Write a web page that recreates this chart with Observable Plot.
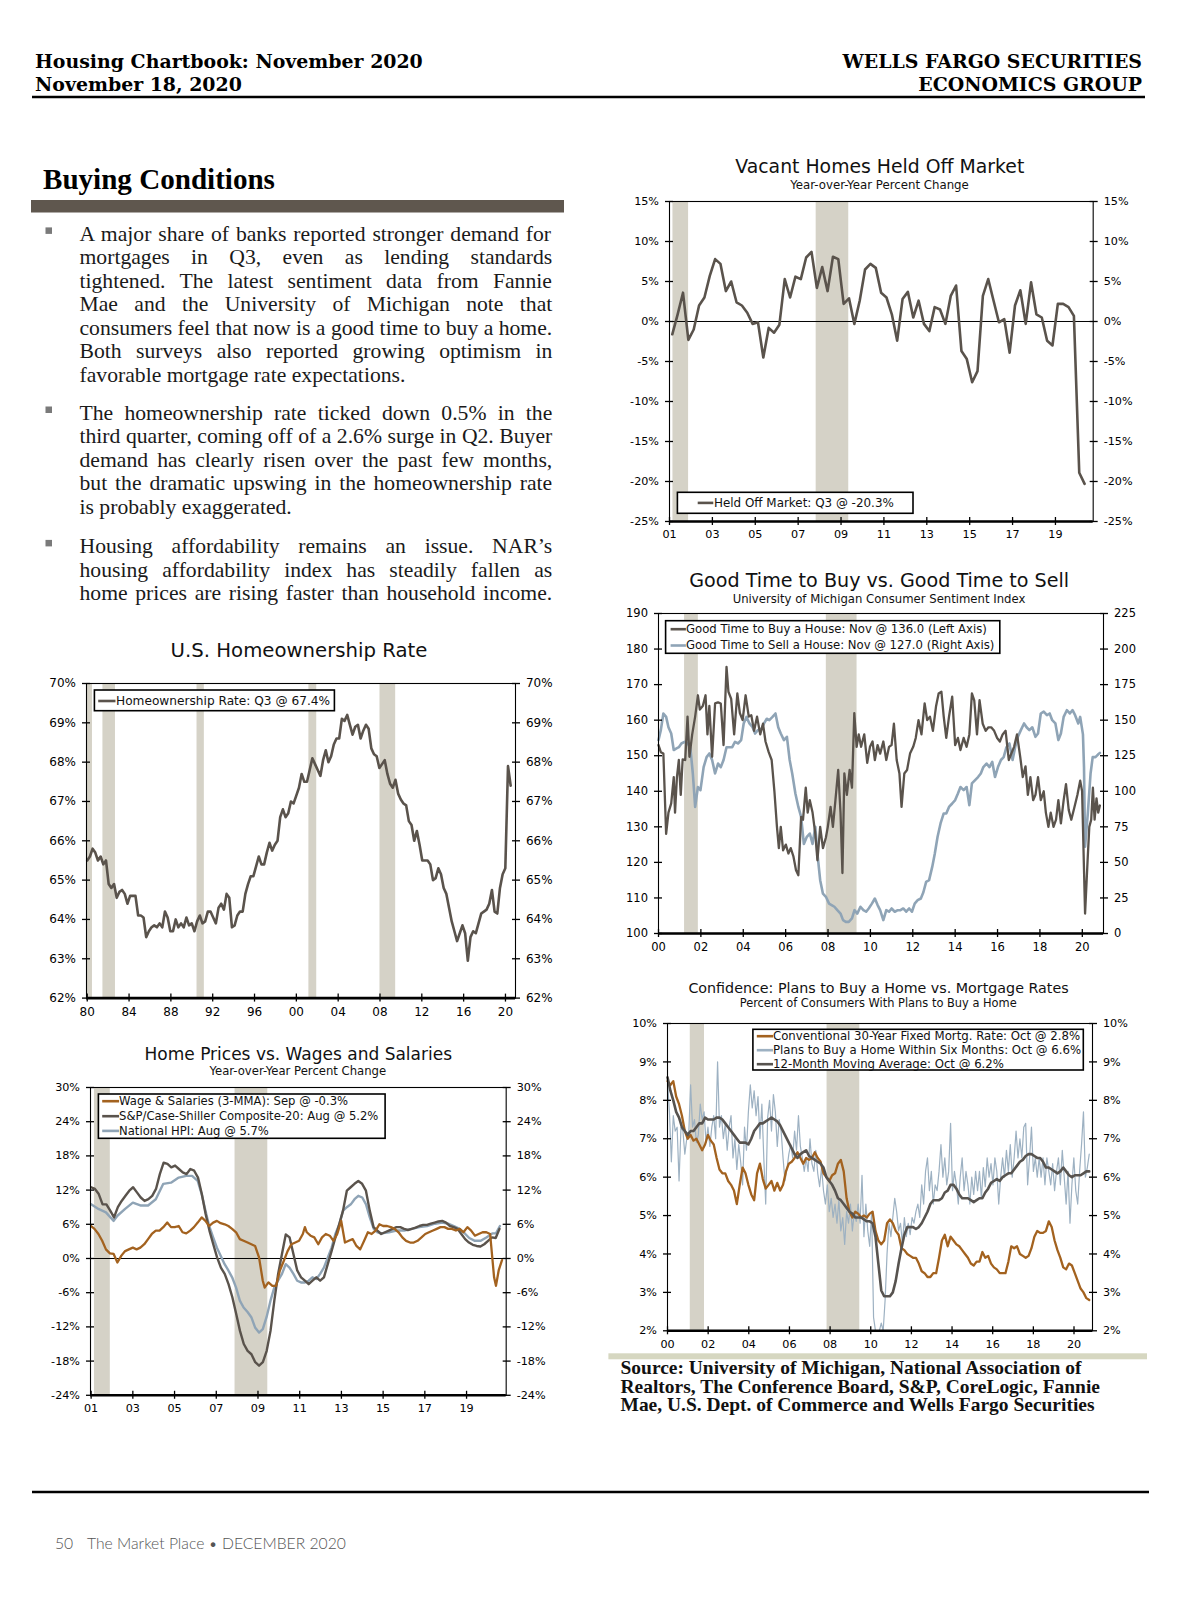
<!DOCTYPE html>
<html><head><meta charset="utf-8">
<script src="https://cdn.jsdelivr.net/npm/d3@7"></script>
<script src="https://cdn.jsdelivr.net/npm/@observablehq/plot@0.6"></script>
<style>
html,body{margin:0;padding:0;background:#fff;}
#page{position:relative;width:1200px;height:1606px;overflow:hidden;background:#fff;}
</style></head>
<body><div id="page"></div>
<script>
// ================= DATA =================
// Vacant homes held off market, YoY % (quarterly, 2001 to 2020 Q3)
const vacantValues = [-1.6,0.9,3.6,-2.3,-1.0,2.0,3.0,5.7,7.8,7.2,3.8,5.0,2.4,2.0,1.1,-0.3,-0.1,-4.5,-0.8,-1.4,-0.4,5.3,3.0,5.6,5.3,8.0,8.7,4.2,6.8,3.8,8.1,7.8,2.2,2.9,-0.3,2.6,6.5,7.2,6.7,3.6,3.0,0.9,-2.4,2.8,3.7,0.5,2.6,-0.3,-1.2,1.8,1.5,-0.3,3.2,4.5,-3.7,-4.7,-7.6,-6.2,3.2,5.3,2.6,-0.1,0.3,-3.9,2.0,3.9,-0.3,4.9,0.9,0.5,-2.4,-3.0,2.2,2.2,1.8,0.7,-18.9,-20.3];
const vacantSpan = [2001.13, 2020.36];

// U.S. homeownership rate, % (quarterly 1980 to 2020 Q3)
const homeownValues = [65.5,65.6,65.8,65.7,65.5,65.6,65.4,65.5,64.9,64.8,64.9,64.55,64.7,64.75,64.65,64.4,64.6,64.6,64.6,64.1,64.1,64.05,63.55,63.7,63.8,63.85,63.8,63.9,63.8,64.2,64.05,63.7,63.7,64.0,63.8,63.9,63.8,64.05,63.85,63.9,63.7,63.95,64.1,63.9,63.95,64.2,64.2,64.05,63.9,64.3,64.4,64.25,64.65,64.55,63.8,63.85,64.1,64.2,64.2,64.65,64.9,65.1,65.1,65.35,65.6,65.4,65.4,65.7,65.95,65.75,65.9,66.0,66.6,66.8,66.6,66.7,67.0,66.95,67.15,67.35,67.7,67.5,67.5,67.8,68.1,67.95,67.8,67.65,68.05,68.3,68.0,68.15,68.45,68.6,68.6,69.1,69.05,69.2,68.95,68.7,68.9,68.95,68.6,68.8,68.95,68.85,68.35,68.2,68.15,67.85,67.95,68.05,67.7,67.45,67.35,67.55,67.2,67.05,66.95,66.9,66.5,66.4,66.0,66.25,65.9,65.5,65.5,65.5,65.4,65.0,65.05,65.3,65.15,64.8,64.65,64.3,63.95,63.7,63.45,63.65,63.85,63.65,62.95,63.55,63.7,63.65,63.9,64.15,64.2,64.25,64.4,64.75,64.2,64.15,64.8,65.15,65.3,67.9,67.4];
const homeownSpan = [1980.0, 2020.5];

// Good time to buy a house (left axis index)
const buySeries = [[2000.00,153],[2000.11,151],[2000.23,150.6],[2000.36,128],[2000.47,134],[2000.60,136.6],[2000.72,144],[2000.78,134],[2000.87,144],[2000.96,148.8],[2001.05,139],[2001.14,149],[2001.26,148.8],[2001.37,161],[2001.46,149.7],[2001.59,156],[2001.73,161],[2001.86,167],[2001.95,163],[2002.09,164],[2002.22,167],[2002.31,156],[2002.40,164],[2002.53,149.7],[2002.67,164.7],[2002.81,165],[2002.94,164.7],[2003.07,153],[2003.21,175],[2003.30,168],[2003.43,166],[2003.57,156],[2003.72,167.5],[2003.84,162],[2003.97,160],[2004.11,167],[2004.26,161],[2004.38,161.4],[2004.51,157],[2004.65,161],[2004.80,156],[2004.93,159],[2005.05,154],[2005.20,151],[2005.34,148.8],[2005.47,140],[2005.59,130],[2005.68,124],[2005.77,130],[2005.88,123.4],[2006.01,125],[2006.13,122.5],[2006.24,124],[2006.37,121.6],[2006.49,117.8],[2006.60,116.4],[2006.73,132.8],[2006.82,132],[2006.95,141],[2007.04,134],[2007.14,137.5],[2007.27,134],[2007.40,128],[2007.50,120.6],[2007.63,130],[2007.76,124],[2007.90,127],[2007.99,130],[2008.12,135.6],[2008.23,130],[2008.35,137.5],[2008.48,146],[2008.59,134],[2008.68,117],[2008.77,145],[2008.89,139],[2009.02,146],[2009.13,141],[2009.24,162],[2009.35,152.5],[2009.45,156],[2009.56,152.5],[2009.71,156],[2009.85,148],[2009.98,152.5],[2010.10,154],[2010.21,148.8],[2010.34,153],[2010.46,150.6],[2010.61,154],[2010.75,148.8],[2010.88,152.5],[2011.00,153],[2011.11,159],[2011.24,148.8],[2011.37,145],[2011.47,135.6],[2011.60,145],[2011.73,146],[2011.87,150.6],[2012.02,152.5],[2012.14,155],[2012.27,160],[2012.41,156],[2012.56,164.7],[2012.68,160],[2012.81,161],[2012.95,157],[2013.10,164],[2013.22,167.5],[2013.35,168],[2013.46,161],[2013.58,155],[2013.71,161],[2013.86,166.6],[2014.00,153],[2014.13,155],[2014.25,151.6],[2014.40,155],[2014.54,152.5],[2014.67,156],[2014.79,167.5],[2014.90,165.6],[2015.03,156],[2015.15,165.6],[2015.30,159],[2015.44,157],[2015.57,158],[2015.70,158],[2015.84,157],[2015.98,155],[2016.11,154],[2016.24,156],[2016.38,157],[2016.53,148.8],[2016.65,150.6],[2016.78,152.5],[2016.92,156],[2017.07,149.7],[2017.19,144],[2017.32,147],[2017.43,139],[2017.55,144],[2017.68,137.5],[2017.79,139],[2017.91,144],[2018.04,137.5],[2018.18,140],[2018.28,134],[2018.40,130],[2018.51,134],[2018.64,130],[2018.76,132],[2018.87,137.5],[2018.99,131],[2019.12,137.5],[2019.23,142],[2019.36,134.7],[2019.48,132],[2019.63,135.6],[2019.77,139],[2019.90,143],[2019.99,140],[2020.13,105.6],[2020.25,120.6],[2020.33,130],[2020.42,132],[2020.50,141],[2020.58,132],[2020.67,138],[2020.75,134],[2020.83,136]];

// Good time to sell a house (right axis index)
const sellSeries = [[2000.00,136],[2000.11,143],[2000.23,154.7],[2000.36,152.3],[2000.47,145],[2000.60,140.6],[2000.72,129],[2000.83,130],[2000.96,131],[2001.08,133.6],[2001.23,134.8],[2001.37,133.6],[2001.50,131],[2001.62,112.5],[2001.73,89],[2001.86,103],[2001.98,100.8],[2002.13,117],[2002.27,124],[2002.40,126.6],[2002.53,122],[2002.67,112.5],[2002.81,119.5],[2002.94,117],[2003.07,122],[2003.21,131],[2003.36,131],[2003.48,131],[2003.61,134.8],[2003.75,133.6],[2003.90,136],[2004.02,147.7],[2004.15,152.3],[2004.29,147.7],[2004.44,145],[2004.56,140.6],[2004.69,143],[2004.83,143],[2004.98,147.7],[2005.11,151],[2005.23,150],[2005.38,152.3],[2005.52,154.7],[2005.65,145],[2005.77,140.6],[2005.92,136],[2006.06,138.3],[2006.19,122],[2006.31,112.5],[2006.46,98.4],[2006.60,89],[2006.73,82],[2006.86,63],[2007.00,68],[2007.14,70.3],[2007.27,63],[2007.40,75],[2007.50,56],[2007.63,37.5],[2007.76,28],[2007.90,25.8],[2008.05,21],[2008.17,20],[2008.30,18.8],[2008.44,16.4],[2008.59,14],[2008.71,9.4],[2008.84,8.2],[2008.98,8.2],[2009.13,10.6],[2009.25,16.4],[2009.38,14],[2009.53,18.8],[2009.67,16.4],[2009.80,15.3],[2009.92,17.6],[2010.07,21],[2010.21,24.6],[2010.34,20],[2010.46,16.4],[2010.61,9.4],[2010.75,16.4],[2010.88,15.3],[2011.00,17.6],[2011.15,15.3],[2011.29,16.4],[2011.42,16.4],[2011.55,17.6],[2011.69,15.3],[2011.83,17.6],[2011.96,15.3],[2012.09,21],[2012.23,23.4],[2012.38,24.6],[2012.50,29],[2012.63,36.3],[2012.77,37.5],[2012.92,47],[2013.04,56.3],[2013.17,68],[2013.31,77.4],[2013.46,84.4],[2013.58,84.4],[2013.71,89],[2013.86,91.4],[2014.00,93.8],[2014.13,98.4],[2014.25,103],[2014.40,100.8],[2014.54,103],[2014.67,90.2],[2014.79,105.5],[2014.94,107.8],[2015.08,110],[2015.21,112.5],[2015.33,117],[2015.48,119.5],[2015.62,117],[2015.75,120.7],[2015.88,110],[2016.02,117],[2016.16,122],[2016.29,124],[2016.42,131],[2016.56,133.6],[2016.71,122],[2016.83,131],[2016.96,138.3],[2017.10,143],[2017.25,147.7],[2017.37,145],[2017.50,143],[2017.64,145],[2017.79,138.3],[2017.91,140.6],[2018.04,154.7],[2018.18,156],[2018.33,153.5],[2018.46,154.7],[2018.58,150],[2018.73,147.7],[2018.87,136],[2018.99,140.6],[2019.12,152.3],[2019.27,157],[2019.41,154.7],[2019.54,157],[2019.66,153.5],[2019.81,147.7],[2019.90,152.3],[2020.03,140],[2020.08,117],[2020.13,61],[2020.26,84.4],[2020.39,112.5],[2020.49,124],[2020.62,124],[2020.75,126],[2020.83,127]];

// Confidence chart (monthly-ish readings, 2000 to Oct 2020)
const plansValues = [8.5,7.7,6.4,7.6,7.2,7.3,5.9,7.3,7.2,6.6,7.0,7.1,8.4,7.3,7.5,6.9,7.1,7.9,7.5,7.7,6.9,7.3,6.8,7.3,7.6,7.0,9.0,7.3,7.6,7.0,7.4,6.7,7.3,7.6,6.5,7.0,6.2,6.85,6.4,5.8,7.3,6.7,7.7,8.4,7.8,8.25,7.6,8.1,7.0,7.9,6.5,5.3,7.55,8.0,7.2,8.15,7.7,6.8,7.5,7.2,6.5,5.9,6.2,6.6,6.85,6.5,7.2,6.7,7.6,6.8,6.5,6.15,6.5,6.15,7.0,6.35,6.15,6.7,6.1,5.75,6.25,5.65,5.3,5.8,5.1,5.45,4.95,5.3,4.8,5.4,4.6,4.95,4.25,5.1,4.8,5.3,4.6,5.1,4.85,5.3,4.8,6.05,4.45,5.3,4.6,4.2,5.1,2.35,2.0,2.0,2.0,2.2,2.0,2.8,4.0,4.8,4.45,4.95,5.45,5.1,4.6,4.8,4.25,4.95,4.45,4.8,4.5,4.95,4.8,5.1,5.3,4.95,5.8,5.3,6.15,6.5,5.65,6.15,5.3,5.8,5.65,6.15,6.85,6.0,6.5,5.8,6.15,7.4,5.65,6.15,5.8,5.3,6.0,6.5,5.65,6.15,5.8,5.3,6.0,5.55,6.15,5.65,6.15,5.45,6.25,5.75,6.5,6.0,6.35,5.8,6.5,6.15,5.3,6.0,6.5,6.0,6.7,6.15,6.85,6.0,6.5,7.2,6.5,7.0,6.5,7.3,7.4,5.8,6.5,7.3,6.15,6.5,6.0,6.5,6.0,6.5,5.8,6.5,6.15,5.8,6.35,5.65,6.15,6.5,5.8,6.7,6.0,5.3,6.15,4.8,5.8,6.5,5.65,5.3,6.15,6.85,7.7,6.0,6.25,6.6];
const mortgageValues = [8.5,8.4,8.5,8.1,7.9,7.6,7.2,7.0,7.1,6.95,7.0,6.85,6.7,6.85,7.1,6.95,6.85,6.5,6.2,6.1,6.1,5.9,5.8,5.65,5.3,5.8,6.25,6.1,5.8,5.55,5.4,6.1,6.35,5.95,5.7,5.8,5.9,5.65,5.85,5.65,5.8,6.15,6.35,6.4,6.5,6.65,6.5,6.35,6.5,6.45,6.5,6.65,6.5,6.4,6.1,6.0,5.9,6.05,6.1,6.35,6.45,6.15,5.45,5.1,4.95,5.1,5.05,4.95,5.0,4.95,5.05,5.1,4.6,4.35,4.25,4.35,4.8,4.9,4.8,4.6,4.5,4.15,4.1,4.0,3.95,3.9,3.9,3.75,3.55,3.5,3.4,3.4,3.5,3.5,3.9,4.35,4.5,4.2,4.45,4.35,4.25,4.2,4.1,4.0,3.9,3.75,3.7,3.8,3.8,4.05,3.9,3.95,3.75,3.65,3.6,3.5,3.5,3.5,3.8,4.2,4.15,4.2,4.0,3.95,3.9,3.95,4.15,4.45,4.6,4.55,4.55,4.6,4.85,4.7,4.35,4.1,3.9,3.65,3.6,3.75,3.7,3.5,3.3,3.1,3.0,2.85,2.8];
const movingAvgValues = [8.6,8.25,8.0,7.7,7.55,7.3,7.2,7.1,7.2,7.2,7.3,7.4,7.4,7.55,7.5,7.5,7.5,7.55,7.55,7.5,7.4,7.3,7.2,7.1,7.0,6.9,6.9,6.9,6.85,7.0,7.2,7.3,7.4,7.4,7.45,7.5,7.55,7.5,7.45,7.35,7.2,7.05,6.9,6.75,6.6,6.5,6.6,6.65,6.7,6.55,6.5,6.45,6.4,6.35,6.25,6.0,5.9,5.8,5.65,5.45,5.4,5.3,5.2,5.1,5.05,4.95,4.95,4.95,4.9,4.85,4.85,4.8,4.45,3.75,3.05,2.9,2.9,2.9,3.0,3.3,3.75,4.15,4.5,4.7,4.7,4.7,4.65,4.7,4.8,4.95,5.1,5.3,5.4,5.4,5.4,5.45,5.6,5.65,5.8,5.8,5.7,5.55,5.45,5.45,5.45,5.4,5.35,5.4,5.45,5.45,5.6,5.7,5.85,5.9,5.95,5.9,6.0,6.05,6.1,6.1,6.2,6.3,6.4,6.45,6.55,6.6,6.6,6.55,6.5,6.5,6.4,6.25,6.25,6.2,6.15,6.1,6.15,6.25,6.15,6.05,6.0,6.05,6.05,6.05,6.1,6.15,6.15];
const confSpan = [2000.0, 2020.75];

// Home prices vs wages (YoY %)
const caseShillerValues = [12.5,12.2,11.3,9.5,9.5,8.4,7.2,9.0,10.1,11.0,11.9,12.5,11.6,10.7,10.1,10.4,11.0,12.2,14.8,16.8,16.6,16.0,16.3,15.7,15.1,14.8,15.7,15.4,14.2,11.3,7.8,4.9,2.5,0.2,-1.6,-2.7,-4.5,-6.8,-9.7,-12.7,-15.0,-16.2,-16.8,-18.2,-18.8,-18.2,-16.2,-12.7,-7.4,-2.7,0.8,4.2,3.7,0.8,-2.1,-3.3,-3.9,-4.5,-3.9,-3.3,-3.9,-3.3,-1.0,1.3,3.7,6.0,8.4,11.9,12.5,13.1,13.6,13.1,11.9,8.4,5.5,4.9,4.3,4.6,4.9,5.2,5.5,5.5,5.2,5.0,5.2,5.4,5.7,5.9,5.9,6.1,6.3,6.5,6.6,6.3,5.7,5.5,5.2,4.3,3.4,2.8,2.4,2.2,2.1,2.5,3.1,3.7,3.6,5.2];
const caseShillerSpan = [2001.0, 2020.58];
const hpiSeries = [[2001.00,9.5],[2001.35,8.7],[2001.71,8.1],[2002.08,6.6],[2002.26,7.5],[2002.63,8.7],[2003.00,9.8],[2003.36,9.3],[2003.73,9.3],[2004.10,10.4],[2004.46,13.1],[2004.83,13.3],[2005.20,14.2],[2005.56,14.5],[2005.84,14.5],[2006.11,13.6],[2006.30,11.3],[2006.48,8.4],[2006.66,5.7],[2006.85,3.7],[2007.03,1.9],[2007.21,0.5],[2007.40,-1.0],[2007.58,-2.1],[2007.76,-3.3],[2007.95,-5.1],[2008.13,-7.4],[2008.31,-8.6],[2008.50,-9.4],[2008.68,-10.3],[2008.86,-12.1],[2009.05,-13.0],[2009.23,-12.4],[2009.41,-10.3],[2009.60,-7.4],[2009.78,-5.1],[2009.96,-3.9],[2010.15,-2.7],[2010.33,-1.0],[2010.51,-1.6],[2010.70,-2.7],[2010.88,-3.9],[2011.06,-4.2],[2011.25,-4.2],[2011.43,-3.9],[2011.61,-3.3],[2011.80,-3.6],[2011.98,-2.7],[2012.16,-1.6],[2012.35,0.2],[2012.53,1.9],[2012.71,4.3],[2012.90,6.0],[2013.08,8.4],[2013.26,9.0],[2013.45,9.5],[2013.63,10.4],[2013.81,11.0],[2014.00,10.7],[2014.18,9.5],[2014.36,7.2],[2014.55,5.2],[2014.73,4.6],[2014.91,4.4],[2015.28,4.6],[2015.64,4.9],[2016.01,4.9],[2016.38,5.2],[2016.74,5.5],[2017.11,5.7],[2017.48,6.1],[2017.84,6.3],[2018.12,6.1],[2018.39,5.7],[2018.67,5.2],[2018.94,4.3],[2019.13,3.6],[2019.40,3.1],[2019.68,3.1],[2019.95,3.7],[2020.23,4.4],[2020.41,4.4],[2020.60,5.7]];
const wageSeries = [[2001.00,5.7],[2001.16,5.2],[2001.35,4.3],[2001.53,3.1],[2001.71,1.6],[2001.90,0.9],[2002.08,0.8],[2002.26,-0.7],[2002.45,0.5],[2002.63,1.3],[2002.81,1.6],[2003.00,1.9],[2003.18,1.6],[2003.36,1.9],[2003.55,2.5],[2003.73,3.4],[2003.91,4.3],[2004.10,4.9],[2004.28,4.9],[2004.46,5.5],[2004.65,6.3],[2004.83,5.5],[2005.01,5.5],[2005.20,5.7],[2005.38,4.6],[2005.56,4.4],[2005.75,4.9],[2005.93,5.5],[2006.11,6.3],[2006.30,7.2],[2006.48,6.6],[2006.66,5.7],[2006.85,6.3],[2007.03,6.6],[2007.21,6.2],[2007.40,6.0],[2007.58,5.7],[2007.76,5.2],[2007.95,4.6],[2008.13,3.4],[2008.31,3.1],[2008.50,2.8],[2008.68,2.5],[2008.86,2.2],[2009.05,0.2],[2009.23,-3.9],[2009.32,-5.1],[2009.50,-4.2],[2009.69,-4.8],[2009.87,-4.8],[2010.05,-2.1],[2010.24,-0.4],[2010.42,1.3],[2010.60,2.5],[2010.79,2.8],[2010.97,3.1],[2011.15,4.3],[2011.25,5.5],[2011.34,4.6],[2011.52,4.0],[2011.70,3.7],[2011.89,2.5],[2012.07,3.7],[2012.25,4.3],[2012.44,4.0],[2012.62,3.1],[2012.80,4.3],[2012.99,6.6],[2013.17,2.8],[2013.35,3.1],[2013.54,3.4],[2013.72,2.2],[2013.90,1.6],[2014.09,3.1],[2014.27,4.6],[2014.45,4.3],[2014.64,4.9],[2014.82,6.0],[2015.00,5.7],[2015.19,5.7],[2015.37,5.5],[2015.55,5.2],[2015.74,4.6],[2015.92,3.7],[2016.10,3.1],[2016.29,2.8],[2016.47,2.8],[2016.65,3.1],[2016.84,3.7],[2017.02,4.3],[2017.20,4.6],[2017.39,4.9],[2017.57,5.2],[2017.75,5.5],[2017.94,5.5],[2018.12,5.2],[2018.30,5.2],[2018.49,4.9],[2018.67,5.2],[2018.85,4.6],[2019.04,5.5],[2019.22,4.9],[2019.40,4.0],[2019.58,4.3],[2019.77,4.6],[2019.95,4.6],[2020.13,4.3],[2020.32,-3.3],[2020.41,-4.8],[2020.54,-2.1],[2020.70,-0.3]];

// Recession shading periods (decimal years)
const recessionsVacant = [[2001.16,2001.89],[2007.84,2009.36]];
const recessionsBuySell = [[2001.23,2001.88],[2007.92,2009.37]];
const recessionsConf = [[2001.12,2001.82],[2007.85,2009.46]];
const recessionsPrices = [[2001.16,2001.92],[2007.90,2009.47]];
const recessionsHomeown = [[1980.0,1980.5],[1981.5,1982.7],[1990.5,1991.2],[2001.2,2001.95],[2008.0,2009.5]];

// Axis ticks
const ticksVacantX = [2001,2003,2005,2007,2009,2011,2013,2015,2017,2019];
const ticksVacantY = [-25,-20,-15,-10,-5,0,5,10,15];
const ticksBuySellX = [2000,2002,2004,2006,2008,2010,2012,2014,2016,2018,2020];
const ticksBuyY = [100,110,120,130,140,150,160,170,180,190];
const ticksSellY = [0,25,50,75,100,125,150,175,200,225];
const ticksConfX = [2000,2002,2004,2006,2008,2010,2012,2014,2016,2018,2020];
const ticksConfY = [2,3,4,5,6,7,8,9,10];
const ticksPricesX = [2001,2003,2005,2007,2009,2011,2013,2015,2017,2019];
const ticksPricesY = [-24,-18,-12,-6,0,6,12,18,24,30];
const ticksHomeownX = [1980,1984,1988,1992,1996,2000,2004,2008,2012,2016,2020];
const ticksHomeownY = [62,63,64,65,66,67,68,69,70];

// Texts
const headerLeft = ["Housing Chartbook: November 2020", "November 18, 2020"];
const headerRight = ["WELLS FARGO SECURITIES", "ECONOMICS GROUP"];
const sectionTitle = "Buying Conditions";
const bullet1 = ["A major share of banks reported stronger demand for","mortgages in Q3, even as lending standards","tightened. The latest sentiment data from Fannie","Mae and the University of Michigan note that","consumers feel that now is a good time to buy a home.","Both surveys also reported growing optimism in","favorable mortgage rate expectations."];
const bullet2 = ["The homeownership rate ticked down 0.5% in the","third quarter, coming off of a 2.6% surge in Q2. Buyer","demand has clearly risen over the past few months,","but the dramatic upswing in the homeownership rate","is probably exaggerated."];
const bullet3 = ["Housing affordability remains an issue. NAR\u2019s","housing affordability index has steadily fallen as","home prices are rising faster than household income."];
const sourceLines = ["Source: University of Michigan, National Association of","Realtors, The Conference Board, S&P, CoreLogic, Fannie","Mae, U.S. Dept. of Commerce and Wells Fargo Securities"];
const footerNum = "50", footerText = "The Market Place \u2022 DECEMBER 2020";

// ================= RENDER =================
const page = document.getElementById("page");
const DARK = "#5a534c", BLUE = "#8fa4b6", BROWN = "#a3621f", PLANS = "#9db1c2", MAC = "#57534f", REC = "#d5d2c7";
const pctFmt = d => d + "%";
const yrFmt = d => String(d % 100).padStart(2, "0");
const spread = (vals, [a, b]) => vals.map((v, i) => ({x: a + i * (b - a) / (vals.length - 1), y: v}));
const pairs = arr => arr.map(([x, y]) => ({x, y}));

function recMarks(rec, yDom) {
  return Plot.rect(rec, {x1: d => d[0], x2: d => d[1], y1: () => yDom[0], y2: () => yDom[1], fill: REC});
}

function chart(cfg) {
  const {frame, xDomain, yDomain, xTicks, yTicks, yFmt, rTicks, rFmt, fontSize, marks} = cfg;
  const pL = 72, pR = 72, pT = 10, pB = 34;
  const width = frame.r - frame.l + pL + pR;
  const height = frame.b - frame.t + pT + pB;
  const svg = Plot.plot({
    width, height, marginLeft: pL, marginRight: pR, marginTop: pT, marginBottom: pB,
    style: {fontFamily: "DejaVu Sans", fontSize: fontSize + "px", background: "transparent", color: "#000", overflow: "visible"},
    x: {domain: xDomain, label: null},
    y: {domain: yDomain, label: null},
    marks: [
      ...marks,
      Plot.frame({stroke: "#000", strokeWidth: 1.1}),
      Plot.ruleY([yDomain[0]], {stroke: "#000", strokeWidth: 2.6}),
      Plot.axisY({anchor: "left", ticks: yTicks, tickSize: 8, dx: 4, fill: "none", strokeWidth: 1.3, label: null}),
      Plot.axisY({anchor: "left", ticks: yTicks, tickFormat: yFmt, tickSize: 0, tickPadding: 10.5, label: null}),
      Plot.axisY({anchor: "right", ticks: rTicks, tickSize: 8, dx: -4, fill: "none", strokeWidth: 1.3, label: null}),
      Plot.axisY({anchor: "right", ticks: rTicks, tickFormat: rFmt, tickSize: 0, tickPadding: 10.5, label: null}),
      Plot.axisX({anchor: "bottom", ticks: xTicks, tickSize: 8, dy: -4, fill: "none", strokeWidth: 1.3, label: null}),
      Plot.axisX({anchor: "bottom", ticks: xTicks, tickFormat: yrFmt, tickSize: 0, tickPadding: 9, label: null})
    ]
  });
  svg.style.position = "absolute";
  svg.style.left = (frame.l - pL) + "px";
  svg.style.top = (frame.t - pT) + "px";
  page.appendChild(svg);
}

// Chart A: Vacant homes held off market
chart({
  frame: {l: 669.3, r: 1093, t: 200.7, b: 520.7},
  xDomain: [2001, 2020.76], yDomain: [-25, 15],
  xTicks: ticksVacantX, yTicks: ticksVacantY, yFmt: pctFmt, rTicks: ticksVacantY, rFmt: pctFmt, fontSize: 11.2,
  marks: [
    recMarks(recessionsVacant, [-25, 15]),
    Plot.ruleY([0], {stroke: "#000", strokeWidth: 1}),
    Plot.line(spread(vacantValues, vacantSpan), {x: "x", y: "y", stroke: DARK, strokeWidth: 2.6})
  ]
});

// Chart B: Good time to buy vs sell
const sellToLeft = v => 100 + v * 90 / 225;
chart({
  frame: {l: 658, r: 1103, t: 613.3, b: 933.3},
  xDomain: [2000, 2021], yDomain: [100, 190],
  xTicks: ticksBuySellX, yTicks: ticksBuyY, yFmt: d => String(d),
  rTicks: ticksSellY.map(sellToLeft), rFmt: d => String(Math.round((d - 100) * 225 / 90)), fontSize: 11.5,
  marks: [
    recMarks(recessionsBuySell, [100, 190]),
    Plot.line(sellSeries.map(([x, v]) => ({x, y: sellToLeft(v)})), {x: "x", y: "y", stroke: BLUE, strokeWidth: 2.6}),
    Plot.line(pairs(buySeries), {x: "x", y: "y", stroke: DARK, strokeWidth: 2.3})
  ]
});

// Chart C: Confidence
chart({
  frame: {l: 667, r: 1092, t: 1022.7, b: 1330},
  xDomain: [2000, 2020.91], yDomain: [2, 10],
  xTicks: ticksConfX, yTicks: ticksConfY, yFmt: pctFmt, rTicks: ticksConfY, rFmt: pctFmt, fontSize: 11.2,
  marks: [
    recMarks(recessionsConf, [2, 10]),
    Plot.line(spread(plansValues, confSpan), {x: "x", y: "y", stroke: PLANS, strokeWidth: 1.2}),
    Plot.line(spread(mortgageValues, confSpan), {x: "x", y: "y", stroke: BROWN, strokeWidth: 2.3}),
    Plot.line(spread(movingAvgValues, confSpan), {x: "x", y: "y", stroke: MAC, strokeWidth: 2.6})
  ]
});

// Chart D: Home prices vs wages
chart({
  frame: {l: 90, r: 505.7, t: 1086.7, b: 1394.5},
  xDomain: [2000.97, 2020.9], yDomain: [-24, 30],
  xTicks: ticksPricesX, yTicks: ticksPricesY, yFmt: pctFmt, rTicks: ticksPricesY, rFmt: pctFmt, fontSize: 11.2,
  marks: [
    recMarks(recessionsPrices, [-24, 30]),
    Plot.ruleY([0], {stroke: "#000", strokeWidth: 1}),
    Plot.line(pairs(hpiSeries), {x: "x", y: "y", stroke: BLUE, strokeWidth: 2.4}),
    Plot.line(spread(caseShillerValues, caseShillerSpan), {x: "x", y: "y", stroke: DARK, strokeWidth: 2.4}),
    Plot.line(pairs(wageSeries), {x: "x", y: "y", stroke: BROWN, strokeWidth: 2.3})
  ]
});

// Chart E: Homeownership
chart({
  frame: {l: 86, r: 515, t: 682.7, b: 997.3},
  xDomain: [1979.93, 2020.96], yDomain: [62, 70],
  xTicks: ticksHomeownX, yTicks: ticksHomeownY, yFmt: pctFmt, rTicks: ticksHomeownY, rFmt: pctFmt, fontSize: 12,
  marks: [
    recMarks(recessionsHomeown, [62, 70]),
    Plot.line(spread(homeownValues, homeownSpan), {x: "x", y: "y", stroke: DARK, strokeWidth: 2.6})
  ]
});

// ================= OVERLAY (page text, legends) =================
const NS = "http://www.w3.org/2000/svg";
const ov = document.createElementNS(NS, "svg");
ov.setAttribute("width", 1200); ov.setAttribute("height", 1606);
ov.style.position = "absolute"; ov.style.left = "0px"; ov.style.top = "0px";
page.appendChild(ov);
const cv = document.createElement("canvas").getContext("2d");
function w1(str, family, weight) { cv.font = `${weight} 100px "${family}"`; return cv.measureText(str).width / 100; }
function fit(str, family, weight, target) { return target / w1(str, family, weight); }
function el(tag, attrs) { const e = document.createElementNS(NS, tag); for (const k in attrs) e.setAttribute(k, attrs[k]); ov.appendChild(e); return e; }
function txt(str, x, y, o) {
  const t = el("text", {x, y, "font-family": o.family, "font-size": o.size, "font-weight": o.weight || 400, "text-anchor": o.anchor || "start", fill: o.fill || "#000"});
  if (o.ws) t.style.wordSpacing = o.ws + "px";
  t.textContent = str;
  return t;
}
function fitted(str, x, y, target, family, weight, o = {}) {
  const size = fit(str, family, weight, target);
  return txt(str, x, y, {family, weight, size, ...o});
}

// Header
const SERIF = "Liberation Serif";
const HSERIF = "DejaVu Serif";
const hSize = Math.min(fit(headerLeft[0], HSERIF, 700, 388), 19.5);
txt(headerLeft[0], 35, 67.5, {family: HSERIF, weight: 700, size: hSize});
txt(headerLeft[1], 35, 90.5, {family: HSERIF, weight: 700, size: hSize});
txt(headerRight[0], 1142, 67.5, {family: HSERIF, weight: 700, size: hSize, anchor: "end"});
txt(headerRight[1], 1142, 90.5, {family: HSERIF, weight: 700, size: hSize, anchor: "end"});
el("line", {x1: 32, x2: 1145, y1: 97, y2: 97, stroke: "#000", "stroke-width": 2.3});

// Section
fitted(sectionTitle, 43, 189, 232, SERIF, 700);
el("rect", {x: 31, y: 200, width: 533, height: 12.5, fill: "#5f574e"});

// Bullets (justified lines)
const bodyW = 473, bodyX = 79.5;
const allBody = [...bullet1, ...bullet2, ...bullet3];
const bodySize = Math.min(...allBody.map(s => bodyW / w1(s, SERIF, 400)));
function para(lines, y0, lastJustify) {
  lines.forEach((s, i) => {
    const y = y0 + i * 23.5;
    const isLast = i === lines.length - 1;
    let ws = 0;
    if (!isLast || lastJustify) {
      const n = (s.match(/ /g) || []).length;
      ws = (bodyW - w1(s, SERIF, 400) * bodySize) / n;
    }
    txt(s, bodyX, y, {family: SERIF, size: bodySize, fill: "#1a1a1a", ws});
  });
  el("rect", {x: 45.5, y: y0 - 13.3, width: 6.5, height: 6.5, fill: "#7a7a7a"});
}
para(bullet1, 240.7, false);
para(bullet2, 419.8, false);
para(bullet3, 553.2, true);

// Chart titles
const SANS = "DejaVu Sans";
fitted("Vacant Homes Held Off Market", 879.8, 173.3, 289, SANS, 400, {anchor: "middle", fill: "#111"});
fitted("Year-over-Year Percent Change", 879.5, 189.3, 179, SANS, 400, {anchor: "middle", fill: "#111"});
fitted("Good Time to Buy vs. Good Time to Sell", 879.2, 587.3, 380, SANS, 400, {anchor: "middle", fill: "#111"});
fitted("University of Michigan Consumer Sentiment Index", 879, 603.3, 293, SANS, 400, {anchor: "middle", fill: "#111"});
fitted("Confidence: Plans to Buy a Home vs. Mortgage Rates", 878.5, 993.3, 380.7, SANS, 400, {anchor: "middle", fill: "#111"});
fitted("Percent of Consumers With Plans to Buy a Home", 878.2, 1007.3, 277.5, SANS, 400, {anchor: "middle", fill: "#111"});
fitted("Home Prices vs. Wages and Salaries", 298.3, 1060, 307.8, SANS, 400, {anchor: "middle", fill: "#111"});
fitted("Year-over-Year Percent Change", 297.8, 1075, 177, SANS, 400, {anchor: "middle", fill: "#111"});
fitted("U.S. Homeownership Rate", 299, 656.7, 257, SANS, 400, {anchor: "middle", fill: "#111"});

// Legends
function legend(box, sx, tx, rows, fitIdx, fitW) {
  el("rect", {x: box[0], y: box[1], width: box[2], height: box[3], fill: "#fff", stroke: "#000", "stroke-width": 1.6});
  const size = fit(rows[fitIdx].label, SANS, 400, fitW);
  rows.forEach(r => {
    el("line", {x1: sx[0], x2: sx[1], y1: r.y - 3.8, y2: r.y - 3.8, stroke: r.color, "stroke-width": 2.6});
    txt(r.label, tx, r.y, {family: SANS, size, fill: "#111"});
  });
}
legend([677.4, 492.3, 235.6, 21], [697.7, 713.3], 714, [{label: "Held Off Market: Q3 @ -20.3%", color: DARK, y: 506.7}], 0, 180);
legend([94.4, 690, 240, 20.7], [98.2, 115.5], 116, [{label: "Homeownership Rate: Q3 @ 67.4%", color: DARK, y: 704.8}], 0, 214.5);
legend([665.6, 620.7, 334.2, 32.6], [670.6, 685.9], 686, [
  {label: "Good Time to Buy a House: Nov @ 136.0 (Left Axis)", color: DARK, y: 633},
  {label: "Good Time to Sell a House: Nov @ 127.0 (Right Axis)", color: BLUE, y: 649.3}], 1, 308.7);
legend([752.9, 1029.3, 330.4, 40.7], [756.8, 773], 773, [
  {label: "Conventional 30-Year Fixed Mortg. Rate: Oct @ 2.8%", color: BROWN, y: 1040},
  {label: "Plans to Buy a Home Within Six Months: Oct @ 6.6%", color: PLANS, y: 1054},
  {label: "12-Month Moving Average: Oct @ 6.2%", color: MAC, y: 1068}], 0, 307.4);
legend([98.4, 1094, 286.7, 44.3], [102.2, 119.1], 119.1, [
  {label: "Wage & Salaries (3-MMA): Sep @ -0.3%", color: BROWN, y: 1105},
  {label: "S&P/Case-Shiller Composite-20: Aug @ 5.2%", color: DARK, y: 1120},
  {label: "National HPI: Aug @ 5.7%", color: BLUE, y: 1134.7}], 1, 259.5);

// Source block
el("rect", {x: 608.4, y: 1353.3, width: 538.6, height: 6, fill: "#d6d7c1"});
const srcSize = fit(sourceLines[1], SERIF, 700, 480);
sourceLines.forEach((s, i) => txt(s, 620.5, [1374, 1392.7, 1411][i], {family: SERIF, weight: 700, size: srcSize, fill: "#111"}));

// Footer
el("line", {x1: 32, x2: 1149, y1: 1492, y2: 1492, stroke: "#000", "stroke-width": 2.6});
const fSize = fit(footerText, "Lato", 300, 259);
txt(footerNum, 55, 1549, {family: "Lato", weight: 300, size: fSize, fill: "#555"});
txt(footerText, 87, 1549, {family: "Lato", weight: 300, size: fSize, fill: "#555"});
</script>
</body></html>
